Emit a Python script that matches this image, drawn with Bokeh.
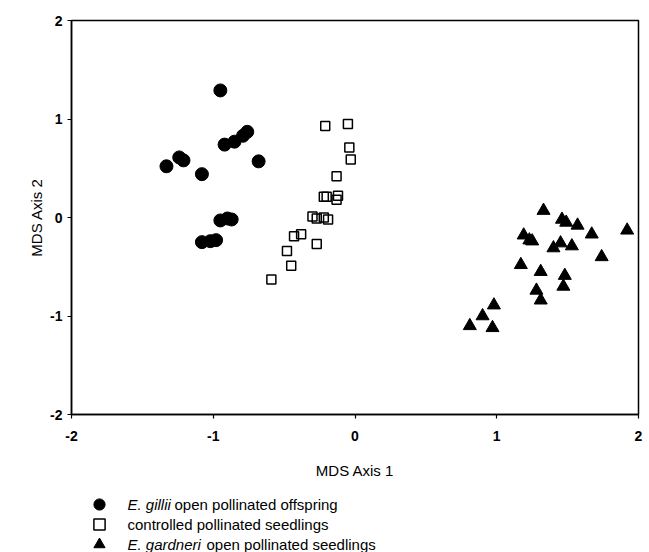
from bokeh.plotting import figure
from bokeh.layouts import column
from bokeh.models import Range1d, Legend, LegendItem, Label, FixedTicker
from bokeh.embed import file_html
from bokeh.resources import INLINE

# E. gillii open pollinated offspring
gillii_x = [-0.95, -0.92, -0.85, -0.79, -0.76, -0.68, -1.33, -1.24, -1.21, -1.08,
            -0.95, -0.90, -0.87, -1.08, -1.02, -0.98]
gillii_y = [1.29, 0.74, 0.77, 0.83, 0.87, 0.57, 0.52, 0.61, 0.58, 0.44,
            -0.03, -0.01, -0.02, -0.25, -0.24, -0.23]
# controlled pollinated seedlings
ctrl_x = [-0.21, -0.05, -0.04, -0.03, -0.13, -0.22, -0.20, -0.12, -0.13, -0.30,
          -0.27, -0.19, -0.22, -0.43, -0.38, -0.27, -0.48, -0.45, -0.59]
ctrl_y = [0.93, 0.95, 0.71, 0.59, 0.42, 0.21, 0.21, 0.22, 0.18, 0.01,
          -0.01, -0.02, 0.00, -0.19, -0.17, -0.27, -0.34, -0.49, -0.63]
# E. gardneri open pollinated seedlings
gard_x = [1.33, 1.46, 1.49, 1.57, 1.67, 1.92, 1.19, 1.23, 1.25, 1.40, 1.45, 1.53,
          1.74, 1.17, 1.31, 1.48, 1.47, 1.28, 1.31, 0.98, 0.90, 0.81, 0.97]
gard_y = [0.07, -0.02, -0.05, -0.08, -0.17, -0.13, -0.18, -0.23, -0.24, -0.31,
          -0.26, -0.29, -0.40, -0.48, -0.55, -0.59, -0.70, -0.74, -0.84, -0.89,
          -1.00, -1.10, -1.12]

ticks = [-2, -1, 0, 1, 2]
tick_labels = ["-2", "-1", "0", "1", "2"]
x_label = "MDS Axis 1"
y_label = "MDS Axis 2"
legend_italic = ["E. gillii", "", "E. gardneri"]
legend_plain = ["open pollinated offspring", "controlled pollinated seedlings",
                "open pollinated seedlings"]

FONT = "Liberation Sans"
W = 649

# ---------------- main scatter plot ----------------
p = figure(width=W, height=490, output_backend="svg", toolbar_location=None,
           x_range=Range1d(-2, 2), y_range=Range1d(-2, 2),
           min_border_left=71, min_border_right=11, min_border_top=20,
           min_border_bottom=76)
p.grid.visible = False
p.outline_line_color = "black"
p.outline_line_width = 1.5

for ax in (p.xaxis[0], p.yaxis[0]):
    ax.ticker = FixedTicker(ticks=ticks)
    ax.major_label_overrides = dict(zip(ticks, tick_labels))
    ax.minor_tick_line_color = None
    ax.major_tick_out = 4
    ax.major_tick_in = 0
    ax.axis_line_width = 1.5
    ax.major_tick_line_width = 1.2
    ax.major_label_text_font = FONT
    ax.major_label_text_font_style = "bold"
    ax.major_label_text_font_size = "14px"
    ax.major_label_text_color = "black"
    ax.axis_label_text_font = FONT
    ax.axis_label_text_font_style = "normal"
    ax.axis_label_text_font_size = "15px"
    ax.axis_label_text_color = "black"

p.xaxis.axis_label = x_label
p.yaxis.axis_label = y_label
p.xaxis.major_label_standoff = 12
p.xaxis.axis_label_standoff = 18
p.yaxis.major_label_standoff = 5
p.yaxis.axis_label_standoff = 2

p.scatter(gillii_x, gillii_y, marker="circle", size=13,
          fill_color="black", line_color="black")
p.scatter(ctrl_x, ctrl_y, marker="square", size=9,
          fill_color=None, line_color="black", line_width=1.5)
p.scatter(gard_x, gard_y, marker="triangle", size=13,
          fill_color="black", line_color="black")

# ---------------- legend strip below ----------------
p2 = figure(width=W, height=62, output_backend="svg", toolbar_location=None,
            x_axis_type=None, y_axis_type=None,
            x_range=Range1d(0, 1), y_range=Range1d(0, 1),
            min_border_left=0, min_border_right=0, min_border_top=0,
            min_border_bottom=0)
p2.grid.visible = False
p2.outline_line_color = None

nan = float("nan")
l1 = p2.scatter([nan], [nan], marker="circle", fill_color="black", line_color="black")
l2 = p2.scatter([nan], [nan], marker="square", fill_color=None, line_color="black",
                line_width=1.5)
l3 = p2.scatter([nan], [nan], marker="triangle", fill_color="black", line_color="black")

# the strip's frame is aligned with the main frame (left edge at x = 71)
row_y = [48, 28, 8]
glyph_box = 28
text_x = 56
italic_w = [47, 0, 79]
for i, r in enumerate((l1, l2, l3)):
    lg = Legend(items=[LegendItem(label=" ", renderers=[r])],
                location=(14, row_y[i] - glyph_box // 2),
                glyph_width=glyph_box, glyph_height=glyph_box,
                label_text_font_size="1px", label_width=0, label_height=1,
                label_standoff=0, padding=0, margin=0, spacing=0,
                border_line_color=None, background_fill_alpha=0)
    p2.add_layout(lg, "center")
    if legend_italic[i]:
        p2.add_layout(Label(x=text_x, y=row_y[i], x_units="screen", y_units="screen",
                            text=legend_italic[i], text_font=FONT,
                            text_font_style="italic", text_font_size="15px",
                            text_baseline="middle", text_align="left",
                            text_color="black"))
    p2.add_layout(Label(x=text_x + italic_w[i], y=row_y[i], x_units="screen",
                        y_units="screen", text=legend_plain[i], text_font=FONT,
                        text_font_size="15px", text_baseline="middle",
                        text_align="left", text_color="black"))

layout = column(p, p2, spacing=0)
open("out.html", "w").write(file_html(layout, INLINE))
